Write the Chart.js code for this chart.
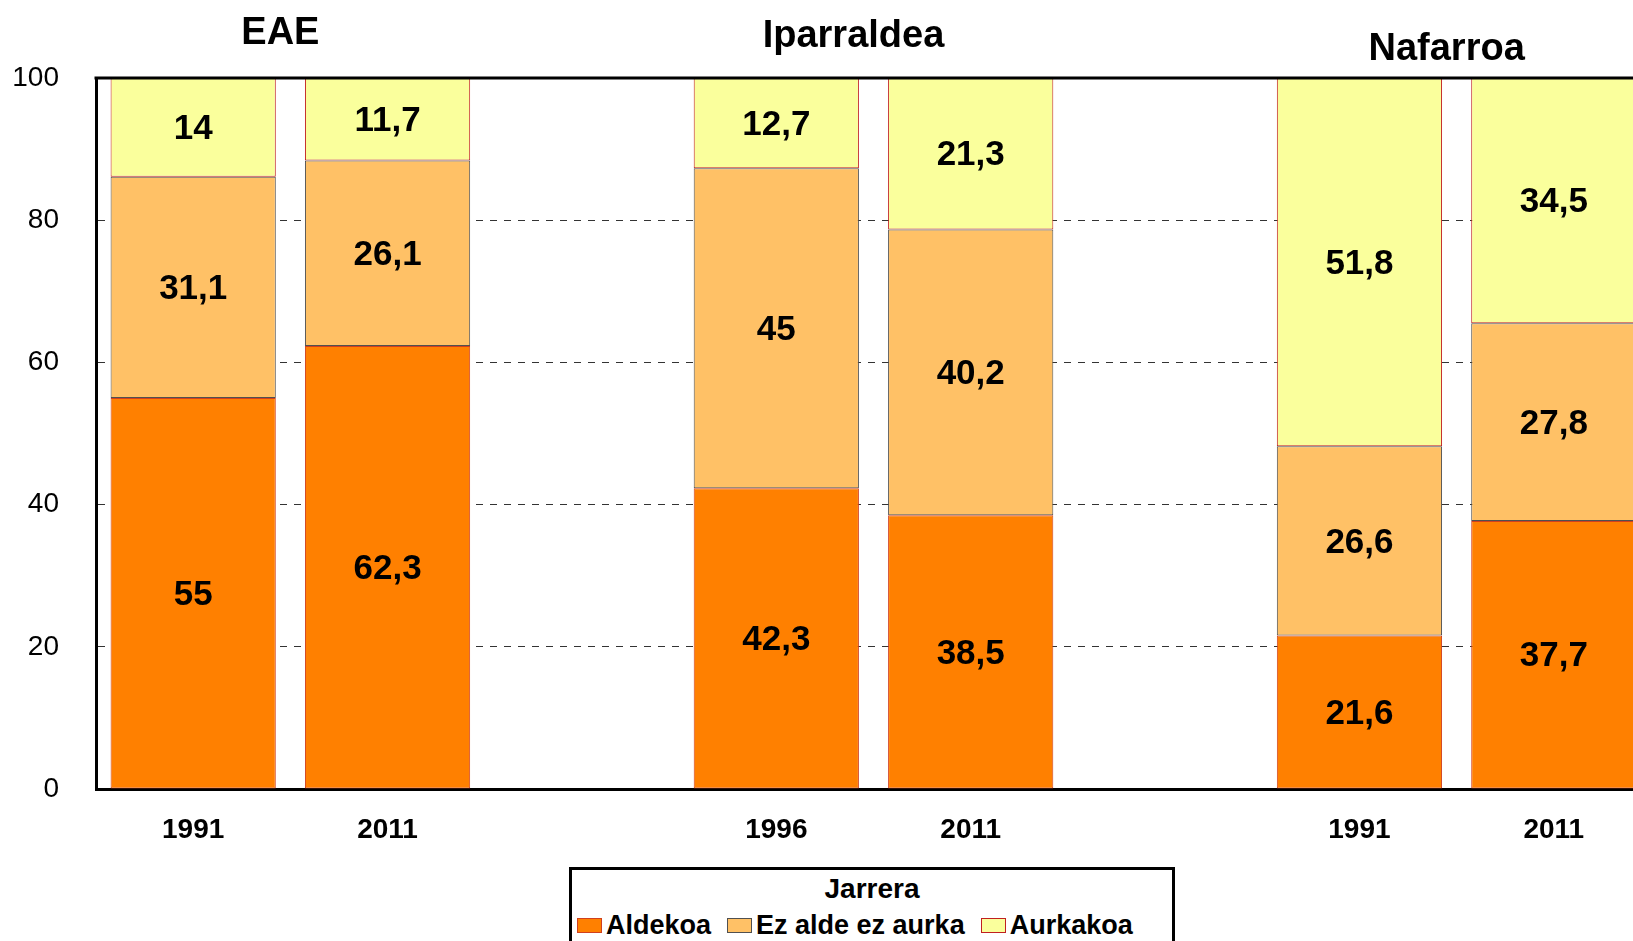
<!DOCTYPE html>
<html>
<head>
<meta charset="utf-8">
<script src="https://cdn.jsdelivr.net/npm/chart.js@4/dist/chart.umd.min.js"></script>
<style>
  html, body { margin: 0; padding: 0; background: #fff; }
  body { width: 1633px; height: 941px; overflow: hidden; position: relative;
         font-family: "Liberation Sans", Arial, sans-serif; }
  #wrap { position: absolute; left: 0; top: 0; width: 1651px; height: 941px; }
  #legend { position: absolute; left: 569px; top: 867px; width: 606px; height: 110px;
            border: 3px solid #000; box-sizing: border-box; background: #fff; }
  #legend .title { position: absolute; left: 0; right: 0; top: 3px; text-align: center;
                   font-weight: bold; font-size: 28px; line-height: 32px; color: #000; }
  #legend .items { position: absolute; left: 5px; top: 40px; display: flex; align-items: center;
                   white-space: nowrap; }
  #legend .item { display: flex; align-items: center; margin-right: 16px;
                  font-weight: bold; font-size: 27px; line-height: 30px; color: #000; }
  #legend .sw { width: 25px; height: 15px; margin-right: 4px; box-sizing: border-box; border: 1px solid; }
</style>
</head>
<body>
<div id="wrap"><canvas id="c" width="1651" height="941"></canvas></div>
<div id="legend"><div class="title" id="legendTitle"></div><div class="items" id="legendItems"></div></div>
<script>
// Years per bar; empty slots separate the three regions
const categories = ['1991', '2011', '', '1996', '2011', '', '1991', '2011'];
// Share of respondents (%) per attitude
const aldekoa = [55, 62.3, null, 42.3, 38.5, null, 21.6, 37.7];
const ezAldeEzAurka = [31.1, 26.1, null, 45, 40.2, null, 26.6, 27.8];
const aurkakoa = [14, 11.7, null, 12.7, 21.3, null, 51.8, 34.5];
const seriesNames = ['Aldekoa', 'Ez alde ez aurka', 'Aurkakoa'];
const legendTitle = 'Jarrera';
const regionTitles = ['EAE', 'Iparraldea', 'Nafarroa'];
const regionStart = [0, 3, 6];
const yTicks = [0, 20, 40, 60, 80, 100];

const fills = ['#FF8000', '#FFC166', '#FAFF9C'];
const edges = ['#D0401E', '#505050', '#C02020'];

const FONT = '"Liberation Sans", Arial, sans-serif';

// Segment values written in the middle of each stacked block
const segmentLabels = {
  id: 'segmentLabels',
  afterDatasetsDraw(chart) {
    const ctx = chart.ctx;
    const top = chart.chartArea.top;
    ctx.save();
    ctx.font = 'bold 35px ' + FONT;
    ctx.fillStyle = '#000';
    ctx.textAlign = 'center';
    ctx.textBaseline = 'middle';
    chart.data.datasets.forEach((ds, di) => {
      const meta = chart.getDatasetMeta(di);
      meta.data.forEach((el, i) => {
        const v = ds.data[i];
        if (v === null || v === undefined) return;
        const p = el.getProps(['x', 'y', 'base'], true);
        const y1 = Math.max(p.y, top);
        const cy = (y1 + p.base) / 2;
        ctx.fillText(String(v).replace('.', ','), p.x, cy + 2);
      });
    });
    ctx.restore();
  }
};

// Region headings above each pair of bars, plus the top frame line
const regionHeads = {
  id: 'regionHeads',
  afterDraw(chart) {
    const ctx = chart.ctx;
    const xs = chart.scales.x;
    const area = chart.chartArea;
    ctx.save();
    ctx.strokeStyle = '#000';
    ctx.lineWidth = 3;
    ctx.beginPath();
    ctx.moveTo(area.left - 1.5, area.top);
    ctx.lineTo(area.right, area.top);
    ctx.stroke();

    const shifts = [-10, -20, -10];
    const baselines = [44, 47, 60];
    ctx.font = 'bold 38px ' + FONT;
    ctx.fillStyle = '#000';
    ctx.textAlign = 'center';
    ctx.textBaseline = 'alphabetic';
    regionTitles.forEach((t, k) => {
      const i = regionStart[k];
      const cx = (xs.getPixelForValue(i) + xs.getPixelForValue(i + 1)) / 2 + shifts[k];
      ctx.fillText(t, cx, baselines[k]);
    });
    ctx.restore();
  }
};

const seriesData = [aldekoa, ezAldeEzAurka, aurkakoa];

new Chart(document.getElementById('c'), {
  type: 'bar',
  data: {
    labels: categories,
    datasets: seriesData.map((d, k) => ({
      label: seriesNames[k],
      data: d,
      backgroundColor: fills[k],
      borderColor: edges[k],
      borderWidth: 1,
      borderSkipped: false,
      categoryPercentage: 1,
      barPercentage: 0.85
    }))
  },
  options: {
    responsive: false,
    animation: false,
    devicePixelRatio: 1,
    layout: { padding: { top: 78, left: 0, right: 0, bottom: 0 } },
    plugins: {
      legend: { display: false },
      tooltip: { enabled: false },
      title: { display: false }
    },
    scales: {
      x: {
        stacked: true,
        grid: { display: false, drawTicks: false },
        border: { display: true, color: '#000', width: 3 },
        ticks: {
          color: '#000',
          font: { family: FONT, size: 28, weight: 'bold' },
          padding: 24,
          maxRotation: 0,
          autoSkip: false
        },
        afterFit(s) { s.height = 152; }
      },
      y: {
        stacked: true,
        min: 0,
        max: 100,
        afterBuildTicks(s) { s.ticks = yTicks.map(v => ({ value: v })); },
        grid: {
          drawTicks: false,
          lineWidth: 1,
          color: c => (c.tick && (c.tick.value === 0 || c.tick.value === 100)) ? 'rgba(0,0,0,0)' : '#333'
        },
        border: { display: true, color: '#000', width: 3, dash: [7, 7] },
        ticks: {
          color: '#000',
          font: { family: FONT, size: 28 },
          padding: 37,
          crossAlign: 'near'
        },
        afterFit(s) { s.width = 96; }
      }
    }
  },
  plugins: [segmentLabels, regionHeads]
});

// HTML legend
document.getElementById('legendTitle').textContent = legendTitle;
const items = document.getElementById('legendItems');
seriesNames.forEach((n, k) => {
  const it = document.createElement('div');
  it.className = 'item';
  const sw = document.createElement('span');
  sw.className = 'sw';
  sw.style.background = fills[k];
  sw.style.borderColor = edges[k];
  const tx = document.createElement('span');
  tx.textContent = n;
  it.appendChild(sw);
  it.appendChild(tx);
  items.appendChild(it);
});
</script>
</body>
</html>
